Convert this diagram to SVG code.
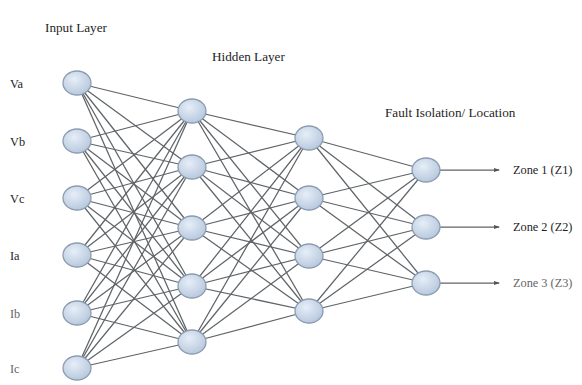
<svg xmlns="http://www.w3.org/2000/svg" width="582" height="385" viewBox="0 0 582 385">
<style>
.n{fill:url(#g);stroke:#8c9cb0;stroke-width:1.3}
.c line{stroke:#5f6468;stroke-width:1.25}
.t{font-family:"Liberation Serif",serif;font-size:12.3px;fill:#1e1e1e}
.lb{font-family:"Liberation Serif",serif;font-size:13.2px;fill:#1e1e1e}
</style>
<defs>
<radialGradient id="g" cx="0.4" cy="0.35" r="0.7">
<stop offset="0" stop-color="#e6eef8"/>
<stop offset="1" stop-color="#b5c6dc"/>
</radialGradient>
<marker id="a" markerWidth="6" markerHeight="4" refX="5" refY="2" orient="auto" markerUnits="userSpaceOnUse">
<path d="M0,0 L6,2 L0,4z" fill="#555"/>
</marker>
</defs>
<rect width="582" height="385" fill="#fff"/>
<g class="c" id="connectors">
<line x1="77" y1="83" x2="192" y2="111"/><line x1="77" y1="83" x2="192" y2="167"/><line x1="77" y1="83" x2="192" y2="228"/><line x1="77" y1="83" x2="192" y2="286"/><line x1="77" y1="83" x2="192" y2="342"/>
<line x1="77" y1="141" x2="192" y2="111"/><line x1="77" y1="141" x2="192" y2="167"/><line x1="77" y1="141" x2="192" y2="228"/><line x1="77" y1="141" x2="192" y2="286"/><line x1="77" y1="141" x2="192" y2="342"/>
<line x1="77" y1="198" x2="192" y2="111"/><line x1="77" y1="198" x2="192" y2="167"/><line x1="77" y1="198" x2="192" y2="228"/><line x1="77" y1="198" x2="192" y2="286"/><line x1="77" y1="198" x2="192" y2="342"/>
<line x1="77" y1="255" x2="192" y2="111"/><line x1="77" y1="255" x2="192" y2="167"/><line x1="77" y1="255" x2="192" y2="228"/><line x1="77" y1="255" x2="192" y2="286"/><line x1="77" y1="255" x2="192" y2="342"/>
<line x1="77" y1="313" x2="192" y2="111"/><line x1="77" y1="313" x2="192" y2="167"/><line x1="77" y1="313" x2="192" y2="228"/><line x1="77" y1="313" x2="192" y2="286"/><line x1="77" y1="313" x2="192" y2="342"/>
<line x1="77" y1="368" x2="192" y2="111"/><line x1="77" y1="368" x2="192" y2="167"/><line x1="77" y1="368" x2="192" y2="228"/><line x1="77" y1="368" x2="192" y2="286"/><line x1="77" y1="368" x2="192" y2="342"/>
<line x1="192" y1="111" x2="309" y2="138"/><line x1="192" y1="111" x2="309" y2="198"/><line x1="192" y1="111" x2="309" y2="256"/><line x1="192" y1="111" x2="309" y2="311"/>
<line x1="192" y1="167" x2="309" y2="138"/><line x1="192" y1="167" x2="309" y2="198"/><line x1="192" y1="167" x2="309" y2="256"/><line x1="192" y1="167" x2="309" y2="311"/>
<line x1="192" y1="228" x2="309" y2="138"/><line x1="192" y1="228" x2="309" y2="198"/><line x1="192" y1="228" x2="309" y2="256"/><line x1="192" y1="228" x2="309" y2="311"/>
<line x1="192" y1="286" x2="309" y2="138"/><line x1="192" y1="286" x2="309" y2="198"/><line x1="192" y1="286" x2="309" y2="256"/><line x1="192" y1="286" x2="309" y2="311"/>
<line x1="192" y1="342" x2="309" y2="138"/><line x1="192" y1="342" x2="309" y2="198"/><line x1="192" y1="342" x2="309" y2="256"/><line x1="192" y1="342" x2="309" y2="311"/>
<line x1="309" y1="138" x2="426" y2="170"/><line x1="309" y1="138" x2="426" y2="227"/><line x1="309" y1="138" x2="426" y2="283"/>
<line x1="309" y1="198" x2="426" y2="170"/><line x1="309" y1="198" x2="426" y2="227"/><line x1="309" y1="198" x2="426" y2="283"/>
<line x1="309" y1="256" x2="426" y2="170"/><line x1="309" y1="256" x2="426" y2="227"/><line x1="309" y1="256" x2="426" y2="283"/>
<line x1="309" y1="311" x2="426" y2="170"/><line x1="309" y1="311" x2="426" y2="227"/><line x1="309" y1="311" x2="426" y2="283"/>
<line x1="440" y1="170" x2="499" y2="170" marker-end="url(#a)"/>
<line x1="440" y1="227" x2="499" y2="227" marker-end="url(#a)"/>
<line x1="440" y1="283" x2="499" y2="283" marker-end="url(#a)"/>
</g>
<text class="lb" x="45" y="32">Input Layer</text>
<text class="lb" x="212" y="61">Hidden Layer</text>
<text class="lb" x="385" y="117">Fault Isolation/ Location</text>
<g id="in-va"><ellipse class="n" cx="77" cy="83" rx="14" ry="12"/><text class="t" x="10" y="88">Va</text></g>
<g id="in-vb"><ellipse class="n" cx="77" cy="141" rx="14" ry="12"/><text class="t" x="10" y="146">Vb</text></g>
<g id="in-vc"><ellipse class="n" cx="77" cy="198" rx="14" ry="12"/><text class="t" x="10" y="203">Vc</text></g>
<g id="in-ia"><ellipse class="n" cx="77" cy="255" rx="14" ry="12"/><text class="t" x="10" y="260">Ia</text></g>
<g id="in-ib"><ellipse class="n" cx="77" cy="313" rx="14" ry="12"/><text class="t" x="10" y="318" style="fill:#666">Ib</text></g>
<g id="in-ic"><ellipse class="n" cx="77" cy="368" rx="14" ry="12"/><text class="t" x="10" y="373" style="fill:#666">Ic</text></g>
<g id="h1-1"><ellipse class="n" cx="192" cy="111" rx="14" ry="12"/></g>
<g id="h1-2"><ellipse class="n" cx="192" cy="167" rx="14" ry="12"/></g>
<g id="h1-3"><ellipse class="n" cx="192" cy="228" rx="14" ry="12"/></g>
<g id="h1-4"><ellipse class="n" cx="192" cy="286" rx="14" ry="12"/></g>
<g id="h1-5"><ellipse class="n" cx="192" cy="342" rx="14" ry="12"/></g>
<g id="h2-1"><ellipse class="n" cx="309" cy="138" rx="14" ry="12"/></g>
<g id="h2-2"><ellipse class="n" cx="309" cy="198" rx="14" ry="12"/></g>
<g id="h2-3"><ellipse class="n" cx="309" cy="256" rx="14" ry="12"/></g>
<g id="h2-4"><ellipse class="n" cx="309" cy="311" rx="14" ry="12"/></g>
<g id="out-1"><ellipse class="n" cx="426" cy="170" rx="14" ry="12"/><text class="t" x="513" y="174">Zone 1 (Z1)</text></g>
<g id="out-2"><ellipse class="n" cx="426" cy="227" rx="14" ry="12"/><text class="t" x="513" y="231">Zone 2 (Z2)</text></g>
<g id="out-3"><ellipse class="n" cx="426" cy="283" rx="14" ry="12"/><text class="t" x="513" y="287" style="fill:#666">Zone 3 (Z3)</text></g>
</svg>
